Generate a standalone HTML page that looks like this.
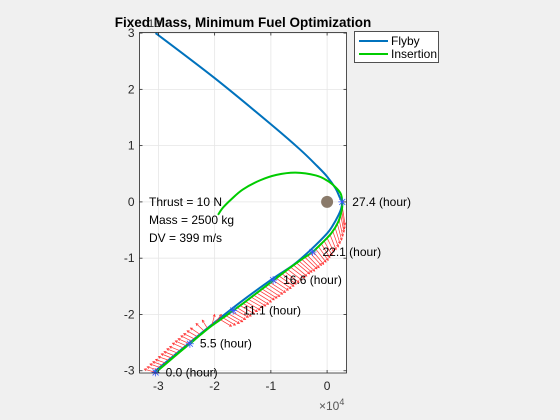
<!DOCTYPE html>
<html><head><meta charset="utf-8"><style>
html,body{margin:0;padding:0;background:#f0f0f0;}
svg{display:block;font-family:"Liberation Sans",Arial,sans-serif;}
</style></head><body>
<svg id="chart" width="560" height="420" viewBox="0 0 560 420">
<rect x="0" y="0" width="560" height="420" fill="#f0f0f0"/>
<rect x="139.5" y="32.5" width="207" height="340.5" fill="#fff"/>
<g id="grid"></g>
<g id="series"></g>
<rect x="139.5" y="32.5" width="207" height="340.5" fill="none" stroke="#262626" stroke-width="0.8"/>
<g id="ticks"></g>
<text x="243" y="27" text-anchor="middle" font-size="13.5" font-weight="bold" fill="#000">Fixed Mass, Minimum Fuel Optimization</text>
<text x="148" y="27" font-size="11" fill="#333">10</text>
<text x="319" y="410" font-size="12" fill="#555">×10<tspan dy="-5" font-size="9">4</tspan></text>
<g font-size="12" fill="#000">
<text x="149" y="206">Thrust = 10 N</text>
<text x="149" y="224">Mass = 2500 kg</text>
<text x="149" y="242">DV = 399 m/s</text>
</g>
<g>
<rect x="354.5" y="31.5" width="84" height="31" fill="#fff" stroke="#262626" stroke-width="0.8"/>
<line x1="359" y1="41" x2="388" y2="41" stroke="#0072BD" stroke-width="2"/>
<text x="391" y="45" font-size="12">Flyby</text>
<line x1="359" y1="54" x2="388" y2="54" stroke="#00CC00" stroke-width="2"/>
<text x="391" y="58" font-size="12">Insertion</text>
</g>
</svg>
<script>
const xTicks=[-3,-2,-1,0];
const yTicks=[-3,-2,-1,0,1,2,3];
const flybyX=[-3.05,-2.0,-1.0,-0.48,-0.18,0,0.15,0.22,0.265,0.25,0.2,0.1,0,-0.3,-0.6,-0.96,-1.5,-2.05,-2.6,-3.1];
const flybyY=[3.0,2.2,1.38,0.93,0.64,0.45,0.24,0.09,0.0,-0.12,-0.24,-0.42,-0.56,-0.86,-1.12,-1.36,-1.75,-2.18,-2.63,-3.04];
const insX=[-3.05,-2.8,-2.6,-2.44,-2.25,-2.05,-1.85,-1.67,-1.45,-1.2,-0.96,-0.7,-0.45,-0.26,-0.08,0.08,0.2,0.26,0.27,0.24,0.14,0,-0.2,-0.56,-0.9,-1.2,-1.5,-1.7,-1.85,-1.94];
const insY=[-3.03,-2.82,-2.65,-2.52,-2.36,-2.2,-2.06,-1.93,-1.77,-1.58,-1.4,-1.2,-1.02,-0.89,-0.72,-0.55,-0.35,-0.15,0,0.15,0.27,0.38,0.47,0.52,0.48,0.38,0.22,0.05,-0.1,-0.23];
const arrowX=[-3.05,-3.0,-2.95,-2.9,-2.85,-2.8,-2.75,-2.7,-2.65,-2.6,-2.55,-2.5,-2.45,-2.4,-2.35,-2.3,-2.25,-2.18,-2.12,-2.05,-2.0,-1.9,-1.85,-1.8,-1.75,-1.7,-1.65,-1.6,-1.55,-1.5,-1.45,-1.4,-1.35,-1.3,-1.25,-1.2,-1.15,-1.1,-1.05,-1.0,-0.95,-0.9,-0.85,-0.8,-0.75,-0.7,-0.65,-0.6,-0.55,-0.5,-0.45,-0.4,-0.35,-0.3,-0.25,-0.2,-0.15,-0.1,-0.05,0.0,0.05,0.1,0.14,0.18,0.21,0.24,0.26,0.27];
const arrowY=[-3.03,-2.99,-2.95,-2.91,-2.87,-2.82,-2.78,-2.74,-2.69,-2.65,-2.6,-2.56,-2.52,-2.48,-2.44,-2.4,-2.36,-2.3,-2.26,-2.2,-2.16,-2.09,-2.06,-2.02,-1.99,-1.95,-1.91,-1.88,-1.84,-1.8,-1.77,-1.73,-1.69,-1.66,-1.62,-1.58,-1.55,-1.51,-1.47,-1.44,-1.4,-1.36,-1.32,-1.28,-1.24,-1.2,-1.16,-1.12,-1.08,-1.05,-1.02,-0.98,-0.95,-0.91,-0.88,-0.84,-0.8,-0.75,-0.7,-0.64,-0.58,-0.52,-0.45,-0.38,-0.3,-0.22,-0.15,-0.08];
const arrowU=[-0.2,-0.2,-0.2,-0.2,-0.2,-0.2,-0.2,-0.2,-0.2,-0.2,-0.2,-0.2,-0.2,-0.2,-0.2,-0.19,-0.18,-0.15,-0.1,0.05,0.12,0.2,0.22,0.24,0.25,0.25,0.25,0.25,0.26,0.26,0.26,0.26,0.26,0.26,0.26,0.26,0.26,0.26,0.26,0.26,0.26,0.26,0.26,0.25,0.25,0.25,0.25,0.24,0.24,0.23,0.23,0.22,0.21,0.2,0.19,0.18,0.17,0.15,0.14,0.12,0.11,0.1,0.09,0.08,0.07,0.06,0.05,0.05];
const arrowV=[0.06,0.06,0.07,0.07,0.07,0.07,0.08,0.08,0.08,0.08,0.09,0.09,0.09,0.1,0.1,0.11,0.12,0.14,0.16,0.2,0.16,-0.12,-0.13,-0.14,-0.14,-0.14,-0.14,-0.15,-0.15,-0.15,-0.15,-0.15,-0.16,-0.16,-0.16,-0.16,-0.16,-0.17,-0.17,-0.17,-0.17,-0.18,-0.18,-0.18,-0.19,-0.19,-0.19,-0.2,-0.2,-0.2,-0.21,-0.21,-0.22,-0.22,-0.23,-0.23,-0.24,-0.24,-0.25,-0.25,-0.27,-0.28,-0.29,-0.3,-0.31,-0.32,-0.33,-0.33];
const markX=[-3.05,-2.44,-1.67,-0.96,-0.26,0.27];
const markY=[-3.03,-2.52,-1.93,-1.39,-0.89,0];
const markLabels=["0.0 (hour)","5.5 (hour)","11.1 (hour)","16.6 (hour)","22.1 (hour)","27.4 (hour)"];
const NS="http://www.w3.org/2000/svg";
const L=139.5,R=346.5,T=32.5,B=373;
const xMin=-3.336,xMax=0.345,yMin=-3.04,yMax=3.01;
const sx=v=>L+(v-xMin)/(xMax-xMin)*(R-L);
const sy=v=>B-(v-yMin)/(yMax-yMin)*(B-T);
function mk(tag,attrs,parent){const e=document.createElementNS(NS,tag);for(const k in attrs)e.setAttribute(k,attrs[k]);parent.appendChild(e);return e;}
function smooth(xs,ys){const p=xs.map((v,i)=>[sx(v),sy(ys[i])]);let d=`M${p[0][0]},${p[0][1]}`;
for(let i=0;i<p.length-1;i++){const p0=p[Math.max(i-1,0)],p1=p[i],p2=p[i+1],p3=p[Math.min(i+2,p.length-1)];
d+=`C${p1[0]+(p2[0]-p0[0])/6},${p1[1]+(p2[1]-p0[1])/6} ${p2[0]-(p3[0]-p1[0])/6},${p2[1]-(p3[1]-p1[1])/6} ${p2[0]},${p2[1]}`;}return d;}
const grid=document.getElementById('grid'),ticks=document.getElementById('ticks'),series=document.getElementById('series');
xTicks.forEach(t=>{const x=sx(t);
const g=mk('line',{x1:x,x2:x,y1:T,y2:B,stroke:'#e6e6e6','stroke-width':0.8},grid);

mk('line',{x1:x,x2:x,y1:B,y2:B-3,stroke:'#262626','stroke-width':0.8},ticks);
mk('line',{x1:x,x2:x,y1:T,y2:T+3,stroke:'#262626','stroke-width':0.8},ticks);
const tx=mk('text',{x:x,y:B+17,'text-anchor':'middle','font-size':12,fill:'#262626'},ticks);tx.textContent=String(t);
});
yTicks.forEach(t=>{const y=sy(t);
const g=mk('line',{x1:L,x2:R,y1:y,y2:y,stroke:'#e6e6e6','stroke-width':0.8},grid);

mk('line',{x1:L,x2:L+3,y1:y,y2:y,stroke:'#262626','stroke-width':0.8},ticks);
mk('line',{x1:R,x2:R-3,y1:y,y2:y,stroke:'#262626','stroke-width':0.8},ticks);
const tx=mk('text',{x:L-5,y:y+4,'text-anchor':'end','font-size':12,fill:'#262626'},ticks);tx.textContent=String(t);
});
const clipG=mk('g',{},series);
const cp=mk('clipPath',{id:'clip'},series);mk('rect',{x:L,y:T,width:R-L,height:B-T},cp);
clipG.setAttribute('clip-path','url(#clip)');
const fly=mk('path',{d:smooth(flybyX,flybyY),fill:'none',stroke:'#0072BD','stroke-width':2,'stroke-linejoin':'round'},clipG);

const ag=mk('g',{},clipG);

arrowX.forEach((v,i)=>{const x1=sx(v),y1=sy(arrowY[i]),x2=sx(v+arrowU[i]),y2=sy(arrowY[i]+arrowV[i]);
const a=mk('line',{x1:x1,y1:y1,x2:x2,y2:y2,stroke:'#ff3030','stroke-width':0.7},ag);

const ang=Math.atan2(y2-y1,x2-x1),h=2.5;
mk('polyline',{points:`${x2-h*Math.cos(ang-0.5)},${y2-h*Math.sin(ang-0.5)} ${x2},${y2} ${x2-h*Math.cos(ang+0.5)},${y2-h*Math.sin(ang+0.5)}`,fill:'none',stroke:'#ff3030','stroke-width':0.7},ag);});
const ins=mk('path',{d:smooth(insX,insY),fill:'none',stroke:'#00CC00','stroke-width':2,'stroke-linejoin':'round'},clipG);

const moon=mk('circle',{cx:sx(0),cy:sy(0),r:6,fill:'#8a7a6a'},series);

markX.forEach((v,i)=>{const x=sx(v),y=sy(markY[i]);
const m=mk('path',{d:`M${x-4},${y}H${x+4}M${x},${y-4}V${y+4}M${x-3},${y-3}L${x+3},${y+3}M${x-3},${y+3}L${x+3},${y-3}`,stroke:'#3355ff','stroke-width':0.8},series);

const t=mk('text',{x:x+10,y:y+4,'font-size':12,fill:'#000'},series);t.textContent=markLabels[i];
});
</script>
</body></html>
